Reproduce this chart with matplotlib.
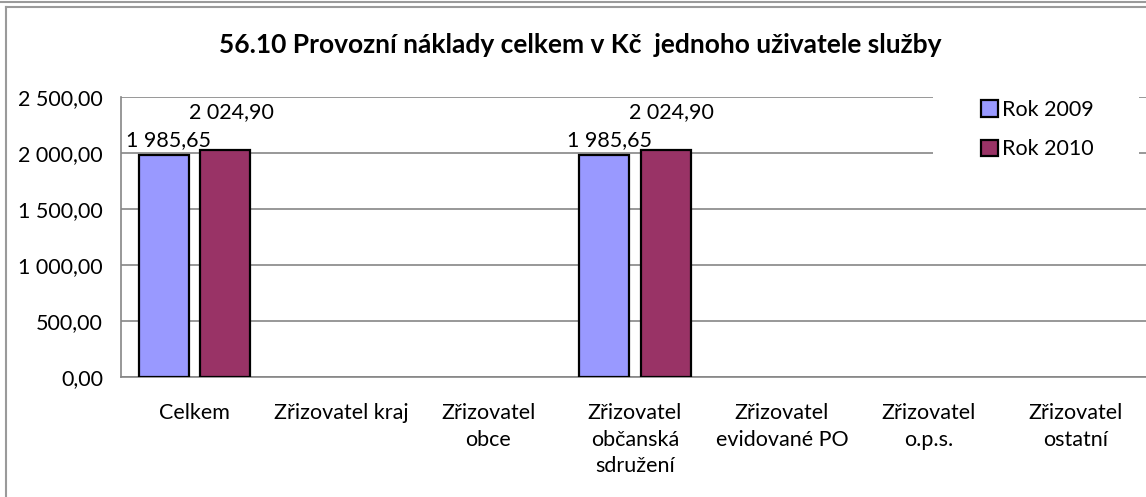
import matplotlib
matplotlib.use("Agg")
import matplotlib.pyplot as plt
from matplotlib.ticker import FuncFormatter
from matplotlib.lines import Line2D
from matplotlib.patches import Rectangle
import numpy as np

categories = [
    "Celkem",
    "Zřizovatel kraj",
    "Zřizovatel\nobce",
    "Zřizovatel\nobčanská\nsdružení",
    "Zřizovatel\nevidované PO",
    "Zřizovatel\no.p.s.",
    "Zřizovatel\nostatní",
]
rok_2009 = [1985.65, 0, 0, 1985.65, 0, 0, 0]
rok_2010 = [2024.90, 0, 0, 2024.90, 0, 0, 0]
series_names = ["Rok 2009", "Rok 2010"]
title = "56.10 Provozní náklady celkem v Kč  jednoho uživatele služby"

plt.rcParams["font.family"] = ["Lato", "DejaVu Sans"]
FS = 15.5

W, H = 1146, 497
fig = plt.figure(figsize=(W / 100, H / 100), dpi=100)
ax = fig.add_axes([121 / W, 1 - 377 / H, (1149 - 121) / W, (377 - 97) / H])


def czech_num(v, pos=None):
    s = f"{v:,.2f}"
    return s.replace(",", " ").replace(".", ",")


x = np.arange(len(categories))
bw = 0.34
off = 0.208
bars1 = ax.bar(x - off, rok_2009, bw, color="#9999FF", edgecolor="black",
               linewidth=1.6, label=series_names[0], zorder=3)
bars2 = ax.bar(x + off, rok_2010, bw, color="#993366", edgecolor="black",
               linewidth=1.6, label=series_names[1], zorder=3)

# empty categories show no bar at all
for bars, vals, dx, dy in [(bars1, rok_2009, 3.6, 3.5), (bars2, rok_2010, 4.3, 20)]:
    for b, v in zip(bars, vals):
        if not v:
            b.set_visible(False)
            continue
        ax.annotate(czech_num(v), (b.get_x() + b.get_width() / 2, v),
                    xytext=(dx, dy), textcoords="offset points",
                    ha="center", va="bottom", fontsize=FS)

ax.set_xlim(-0.5, len(categories) - 0.5)
ax.set_ylim(0, 2500)
ax.set_yticks(np.arange(0, 2501, 500))
ax.yaxis.set_major_formatter(FuncFormatter(czech_num))
ax.set_xticks(x)
ax.set_xticklabels(categories, linespacing=1.39)
ax.tick_params(axis="y", length=0, pad=13, labelsize=FS)
ax.tick_params(axis="x", length=0, pad=19, labelsize=FS)
ax.grid(axis="y", color="#868686", linewidth=1.2, zorder=0)
for side in ["top", "right"]:
    ax.spines[side].set_visible(False)
for side in ["left", "bottom"]:
    ax.spines[side].set_color("#868686")
    ax.spines[side].set_linewidth(1.2)

# white legend area hides the gridlines behind it
ax.add_patch(Rectangle((933 / W, 1 - 185 / H), (1139 - 933) / W, (185 - 93) / H,
                       transform=fig.transFigure, facecolor="white",
                       edgecolor="none", zorder=4, clip_on=False))
leg = ax.legend(loc="upper left", bbox_to_anchor=(981 / W, 1 - 100 / H),
                bbox_transform=fig.transFigure, frameon=False,
                fontsize=FS, handlelength=0.78, handleheight=0.78,
                handletextpad=0.2, labelspacing=0.9, borderpad=0,
                borderaxespad=0)
leg.set_zorder(5)

fig.text(580 / W, 1 - 45 / H, title, ha="center", va="center",
         fontsize=19, fontweight="bold")

# outer frame lines
fig.add_artist(Line2D([0, 1], [1 - 2 / H, 1 - 2 / H], color="#9a9a9a", linewidth=1.5))
fig.add_artist(Line2D([6 / W, 1], [1 - 7 / H, 1 - 7 / H], color="#9a9a9a", linewidth=1.5))
fig.add_artist(Line2D([6 / W, 6 / W], [0, 1 - 7 / H], color="#9a9a9a", linewidth=1.5))

fig.savefig("out.png", dpi=100)
